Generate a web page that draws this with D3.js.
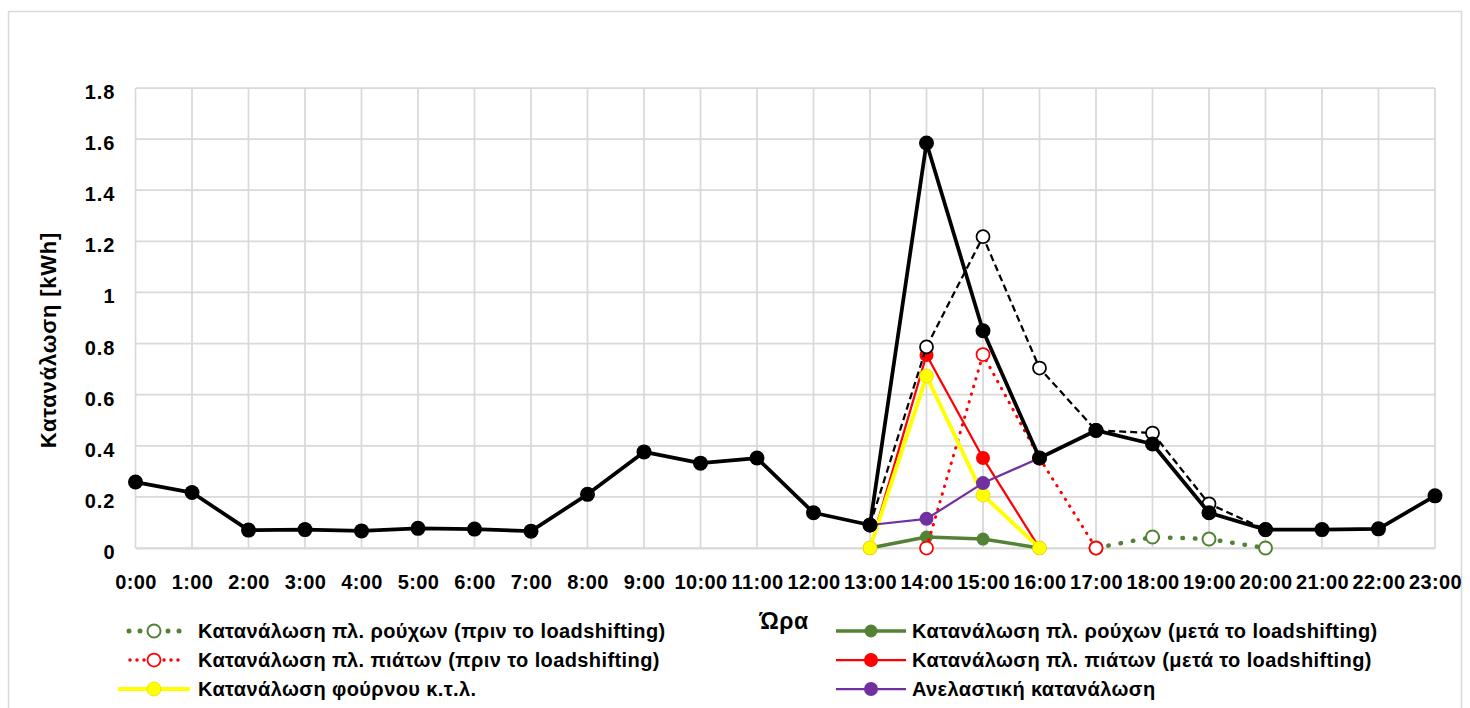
<!DOCTYPE html>
<html>
<head>
<meta charset="utf-8">
<script src="https://cdn.jsdelivr.net/npm/d3@7"></script>
<style>
  html, body { margin: 0; padding: 0; background: #fff; }
  svg { display: block; }
  text { font-family: "Liberation Sans", Arial, sans-serif; font-weight: bold; fill: #000; }
</style>
</head>
<body>
<svg id="chart" width="1470" height="708"></svg>
<script>
// Hourly consumption (kWh), 0:00 .. 23:00; null = no value for that hour
const hours = ["0:00","1:00","2:00","3:00","4:00","5:00","6:00","7:00","8:00","9:00","10:00","11:00",
               "12:00","13:00","14:00","15:00","16:00","17:00","18:00","19:00","20:00","21:00","22:00","23:00"];

const washerBefore = [null,null,null,null,null,null,null,null,null,null,null,null,
                      null,null,null,null,null,0,0.043,0.035,0,null,null,null];
const washerAfter  = [null,null,null,null,null,null,null,null,null,null,null,null,
                      null,0,0.043,0.035,0,null,null,null,null,null,null,null];
const dishBefore   = [null,null,null,null,null,null,null,null,null,null,null,null,
                      null,null,0,0.757,0.352,0,null,null,null,null,null,null];
const dishAfter    = [null,null,null,null,null,null,null,null,null,null,null,null,
                      null,0,0.755,0.352,0,null,null,null,null,null,null,null];
const oven         = [null,null,null,null,null,null,null,null,null,null,null,null,
                      null,0,0.673,0.207,0,null,null,null,null,null,null,null];
const inelastic    = [null,null,null,null,null,null,null,null,null,null,null,null,
                      null,0.09,0.114,0.254,0.352,null,null,null,null,null,null,null];
const totalBefore  = [null,null,null,null,null,null,null,null,null,null,null,null,
                      null,0.09,0.787,1.218,0.704,0.46,0.45,0.173,0.072,null,null,null];
const totalAfter   = [0.258,0.217,0.07,0.072,0.067,0.077,0.074,0.066,0.21,0.376,0.332,0.352,
                      0.138,0.09,1.585,0.85,0.352,0.46,0.407,0.138,0.072,0.072,0.075,0.204];

const yTicks = [0, 0.2, 0.4, 0.6, 0.8, 1, 1.2, 1.4, 1.6, 1.8];

const legendLabels = [
  "Κατανάλωση πλ. ρούχων (πριν το loadshifting)",
  "Κατανάλωση πλ. ρούχων (μετά το loadshifting)",
  "Κατανάλωση πλ. πιάτων (πριν το loadshifting)",
  "Κατανάλωση πλ. πιάτων (μετά το loadshifting)",
  "Κατανάλωση φούρνου κ.τ.λ.",
  "Ανελαστική κατανάλωση"
];

const GREEN = "#548235", RED = "#ff0000", YELLOW = "#ffff00", PURPLE = "#7030a0", GRID = "#d9d9d9";

const svg = d3.select("#chart");

// chart frame
svg.append("rect").attr("x", 8.5).attr("y", 11.5).attr("width", 1453).attr("height", 760)
  .attr("fill", "#fff").attr("stroke", GRID).attr("stroke-width", 1.5);

const x = d3.scalePoint().domain(hours).range([135.5, 1435]);
const y = d3.scaleLinear().domain([0, 1.8]).range([548, 88]);

// gridlines
const grid = svg.append("g");
grid.selectAll("line.h").data(yTicks).join("line")
  .attr("x1", x(hours[0])).attr("x2", x(hours[hours.length - 1]))
  .attr("y1", d => y(d)).attr("y2", d => y(d))
  .attr("stroke", GRID).attr("stroke-width", 1.75);
grid.selectAll("line.v").data(hours).join("line")
  .attr("x1", d => x(d)).attr("x2", d => x(d))
  .attr("y1", y(1.8)).attr("y2", y(0))
  .attr("stroke", GRID).attr("stroke-width", 1.75);

// axes (labels only, lines come from the grid)
const xAxis = svg.append("g").attr("transform", `translate(0,${y(0)})`)
  .call(d3.axisBottom(x).tickSize(0).tickPadding(0));
xAxis.select(".domain").attr("stroke", GRID).attr("stroke-width", 1.75);
xAxis.selectAll("text").attr("font-size", 20).attr("font-family", null)
  .attr("letter-spacing", 0.4).attr("y", 40.5).attr("dy", null);

const yAxis = svg.append("g").attr("transform", `translate(${x(hours[0])},0)`)
  .call(d3.axisLeft(y).tickValues(yTicks).tickFormat(d3.format("~g")).tickSize(0).tickPadding(0));
yAxis.select(".domain").remove();
yAxis.selectAll("text").attr("font-size", 20).attr("font-family", null)
  .attr("letter-spacing", 1).attr("x", -20).attr("dy", null).attr("y", 10.5);

// axis titles
svg.append("text").attr("x", 784).attr("y", 629).attr("text-anchor", "middle")
  .attr("font-size", 23).attr("letter-spacing", 0.5).text("Ώρα");
svg.append("text").attr("transform", "translate(56,340) rotate(-90)")
  .attr("text-anchor", "middle").attr("font-size", 22).attr("letter-spacing", 0.8)
  .text("Κατανάλωση [kWh]");

// series
const line = d3.line().defined(d => d != null).x((d, i) => x(hours[i])).y(d => y(d));

function drawSeries(data, opt) {
  const g = svg.append("g");
  g.append("path").datum(data).attr("d", line)
    .attr("fill", "none").attr("stroke", opt.stroke).attr("stroke-width", opt.width)
    .attr("stroke-dasharray", opt.dash || null)
    .attr("stroke-linecap", opt.cap || "butt").attr("stroke-linejoin", "round");
  const pts = data.map((v, i) => ({ v, i })).filter(d => d.v != null);
  g.selectAll("circle").data(pts).join("circle")
    .attr("cx", d => x(hours[d.i])).attr("cy", d => y(d.v)).attr("r", opt.r)
    .attr("fill", opt.fill).attr("stroke", opt.mstroke || "none")
    .attr("stroke-width", opt.mwidth || 0);
}

const styles = {
  washerBefore: { stroke: GREEN, width: 4.5, dash: "0.5 12", cap: "round", r: 6.5, fill: "#fff", mstroke: GREEN, mwidth: 2 },
  washerAfter:  { stroke: GREEN, width: 3.5, r: 6.5, fill: GREEN },
  dishBefore:   { stroke: RED, width: 3, dash: "0.5 7.5", cap: "round", r: 6.5, fill: "#fff", mstroke: RED, mwidth: 1.75 },
  dishAfter:    { stroke: RED, width: 2.25, r: 7, fill: RED },
  oven:         { stroke: YELLOW, width: 4, r: 7, fill: YELLOW, mstroke: "#e8d800", mwidth: 0.75 },
  inelastic:    { stroke: PURPLE, width: 2.25, r: 7, fill: PURPLE },
  totalBefore:  { stroke: "#000", width: 2.25, dash: "7 4", r: 6.5, fill: "#fff", mstroke: "#000", mwidth: 1.75 },
  totalAfter:   { stroke: "#000", width: 3.75, r: 7.5, fill: "#000" }
};

drawSeries(washerBefore, styles.washerBefore);
drawSeries(washerAfter, styles.washerAfter);
drawSeries(dishBefore, styles.dishBefore);
drawSeries(dishAfter, styles.dishAfter);
drawSeries(oven, styles.oven);
drawSeries(inelastic, styles.inelastic);
drawSeries(totalBefore, styles.totalBefore);
drawSeries(totalAfter, styles.totalAfter);

// legend, two columns
const legendStyles = [styles.washerBefore, styles.washerAfter, styles.dishBefore,
                      styles.dishAfter, styles.oven, styles.inelastic];
const colX = [{ x0: 118, x1: 190, text: 198 }, { x0: 836, x1: 906, text: 912 }];
const rowY = [631, 660, 689];

legendLabels.forEach((label, k) => {
  const c = colX[k % 2], ry = rowY[Math.floor(k / 2)], s = legendStyles[k];
  const g = svg.append("g");
  const mid = (c.x0 + c.x1) / 2;
  if (s.dash) {
    // dotted legend keys: dots either side of the marker
    const step = k === 0 ? 11 : 7;
    const n = k === 0 ? 2 : 3;
    for (let j = 1; j <= n; j++) {
      [mid - 6 - j * step + 3, mid + 6 + j * step - 3].forEach(cx => {
        g.append("circle").attr("cx", cx).attr("cy", ry).attr("r", s.width / 2 + 0.25).attr("fill", s.stroke);
      });
    }
  } else {
    g.append("line").attr("x1", c.x0).attr("x2", c.x1).attr("y1", ry).attr("y2", ry)
      .attr("stroke", s.stroke).attr("stroke-width", s.width);
  }
  g.append("circle").attr("cx", mid).attr("cy", ry).attr("r", s.r)
    .attr("fill", s.fill).attr("stroke", s.mstroke || "none").attr("stroke-width", s.mwidth || 0);
  g.append("text").attr("x", c.text).attr("y", ry + 7).attr("font-size", 20)
    .attr("letter-spacing", 0.4).text(label);
});
</script>
</body>
</html>
